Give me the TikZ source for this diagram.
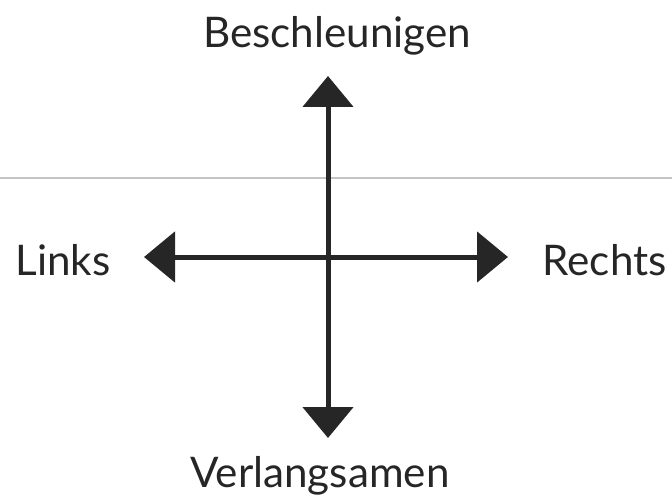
\documentclass[tikz,border=0pt]{standalone}
\usepackage{fontspec}
\setmainfont{Lato}
\usepackage{tikz}
\usetikzlibrary{arrows.meta,positioning}
\definecolor{ink}{HTML}{262626}
\definecolor{fold}{HTML}{C4C4C4}
\tikzset{
  dirarrow/.style={
    -{Triangle[length=0.62cm, width=1.0cm]}, line width=0.1cm, color=ink
  },
  dirlabel/.style={
    inner sep=0pt, font=\fontsize{24}{28}\selectfont, text=ink
  },
  foldline/.style={line width=0.035cm, color=fold},
}

\begin{document}
\begin{tikzpicture}
\useasboundingbox (0,0) rectangle (13.44,9.92);
\coordinate (mid) at (6.56,4.78);
\coordinate (up) at (6.56,8.40);
\coordinate (down) at (6.56,1.16);
\coordinate (left) at (2.88,4.78);
\coordinate (right) at (10.16,4.78);
\node[dirlabel, anchor=base] (faster) at (6.74,8.96) {Beschleunigen};
\node[dirlabel, anchor=base] (slower) at (6.40,0.18) {Verlangsamen};
\node[dirlabel, anchor=base west] (links) at (0.30,4.42) {Links};
\node[dirlabel, anchor=base east] (rechts) at (13.34,4.42) {Rechts};
% crease of the paper
\draw[foldline] (0,6.36) -- (13.44,6.36);
\draw[dirarrow] (mid) -- (up);
\draw[dirarrow] (mid) -- (down);
\draw[dirarrow] (mid) -- (left);
\draw[dirarrow] (mid) -- (right);
\end{tikzpicture}
\end{document}
